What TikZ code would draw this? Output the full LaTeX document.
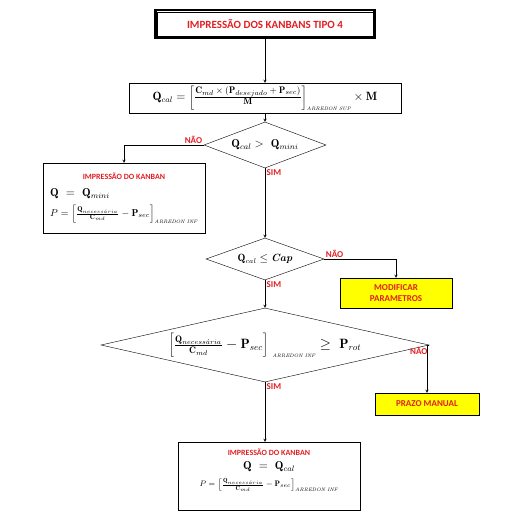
\documentclass[tikz,border=0pt]{standalone}
\usepackage{fontspec}
\newfontfamily\lblfont{Carlito}
\usetikzlibrary{shapes.geometric}
\definecolor{kred}{RGB}{225,30,35}
\definecolor{kyellow}{RGB}{255,255,0}
\newcommand{\arred}[1]{\mbox{\fontsize{5}{6}\selectfont\itshape #1}}
\newcommand{\kfrac}{\left[\frac{\mathbf{Q}_{necess\acute{a}ria}}{\mathbf{C}_{md}}-\mathbf{P}_{sec}\right]}

\begin{document}
\begin{tikzpicture}[x=1pt,y=-1pt,>=stealth,
  box/.style={draw, thin, inner sep=0pt},
  decision/.style={draw, thin, diamond, inner sep=0pt},
  yellowbox/.style={draw, thin, fill=kyellow, inner sep=0pt, text=kred,
    font=\lblfont\bfseries\small, align=center},
  answer/.style={text=kred, font=\lblfont\bfseries\small, inner sep=1.5pt}]
  \useasboundingbox (0,0) rectangle (526,516);
  \path
  (265,24) node[draw, line width=2.5pt, minimum width=219pt, minimum height=28pt,
    text=kred, font=\lblfont\bfseries\fontsize{11}{13}\selectfont] (TITLE)
    {IMPRESSÃO DOS KANBANS TIPO 4}
  (265,98) node[box, minimum width=272pt, minimum height=30pt,
    font=\fontsize{12}{14}\selectfont] (QCAL)
    {$\mathbf{Q}_{cal}=\left[\frac{\mbox{\fontsize{9.5}{10}\selectfont$\mathbf{C}_{md}\times(\mathbf{P}_{desejado}+\mathbf{P}_{sec})$}}{\mbox{\fontsize{9.5}{10}\selectfont$\mathbf{M}$}}\right]_{\arred{ARREDON SUP}}\times\mathbf{M}$}
  (265,145) node[decision, aspect=2.65, minimum width=122pt, minimum height=46pt,
    font=\fontsize{11.5}{13}\selectfont] (TEST1)
    {$\mathbf{Q}_{cal}>\ \mathbf{Q}_{mini}$}
  (124,198) node[box, minimum width=162pt, minimum height=70pt] (KMIN) {%
    \begin{tabular}{@{}l@{}}
      \multicolumn{1}{c}{\lblfont\bfseries\footnotesize\color{kred}IMPRESSÃO DO KANBAN}\\[5pt]
      \fontsize{11.5}{13}\selectfont$\mathbf{Q}\ =\ \mathbf{Q}_{mini}$\\[5pt]
      \fontsize{10}{12}\selectfont$P=\kfrac_{\arred{ARREDON INF}}$\\[5pt]
    \end{tabular}}
  (265,259) node[decision, aspect=2.8, minimum width=118pt, minimum height=42pt,
    font=\fontsize{10.5}{12}\selectfont] (TEST2)
    {$\mathbf{Q}_{cal}\leq\mbox{\bfseries\itshape Cap}$}
  (396,293) node[yellowbox, minimum width=112pt, minimum height=30pt] (MODIF)
    {MODIFICAR\\PARAMETROS}
  (265,345) node[decision, aspect=4.43, minimum width=328pt, minimum height=74pt,
    font=\fontsize{13.5}{15}\selectfont] (TEST3)
    {$\kfrac_{\ \arred{ARREDON INF}}\geq\ \mathbf{P}_{rot}$}
  (427,404) node[yellowbox, minimum width=104pt, minimum height=22pt] (PRAZO)
    {PRAZO MANUAL}
  (269,476) node[box, minimum width=182pt, minimum height=68pt] (KCAL) {%
    \begin{tabular}{@{}c@{}}
      {\lblfont\bfseries\footnotesize\color{kred}IMPRESSÃO DO KANBAN}\\[2pt]
      \fontsize{11.5}{13}\selectfont$\mathbf{Q}\ =\ \mathbf{Q}_{cal}$\\[5pt]
      \footnotesize$P=\kfrac_{\arred{ARREDON INF}}$\\[14pt]
    \end{tabular}};
  \draw[thin] ([shift={(3pt,-3pt)}]TITLE.north west) rectangle ([shift={(-3pt,3pt)}]TITLE.south east);

  \draw[->] (TITLE) -- (QCAL);
  \draw[->] (QCAL) -- (TEST1);
  \draw[->] (TEST1.west) -| node[answer, pos=0, above left] {NÃO} (KMIN.north);
  \draw[->] (TEST1.south) -- node[answer, pos=0, below right] {SIM} (TEST2.north);
  \draw[->] (TEST2.east) -| node[answer, pos=0, above right] {NÃO} (MODIF.north);
  \draw[->] (TEST2.south) -- node[answer, pos=0, below right] {SIM} (TEST3.north);
  \draw[->] (TEST3.east) -| node[answer, pos=0, below left] {NÃO} (PRAZO.north);
  \draw[->] (TEST3.south) -- node[answer, pos=0, below right] {SIM} (TEST3.south |- KCAL.north);
\end{tikzpicture}
\end{document}
